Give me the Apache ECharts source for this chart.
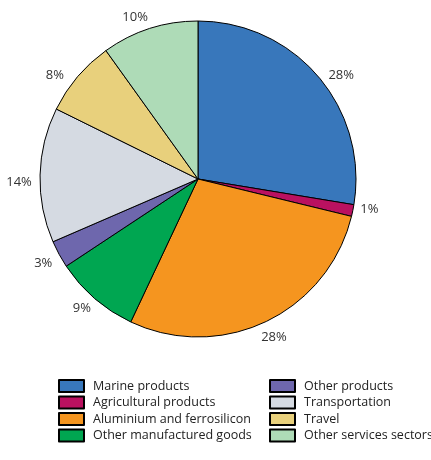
<!DOCTYPE html>
<html><head><meta charset="utf-8">
<script src="https://cdn.jsdelivr.net/npm/echarts@6/dist/echarts.min.js"></script>
<style>html,body{margin:0;padding:0;background:#fff}#c{width:431px;height:460px}</style>
</head><body><div id="c"></div>
<script>
var categories = ['Marine products','Agricultural products','Aluminium and ferrosilicon','Other manufactured goods','Other products','Transportation','Travel','Other services sectors'];
var values = [27.6, 1.2, 28.2, 8.7, 2.8, 13.8, 7.8, 9.9];
var colors = ['#3877BB','#BA1160','#F5951F','#00A651','#6E67AD','#D5DAE2','#E8D07C','#AEDBB7'];
var leftLegend = categories.slice(0,4);
var rightLegend = categories.slice(4);
// small label nudges (style only)
var labelNudge = [[9,10],[-1,-5],[0,0],[-1,-4],[0,0],[-3,8],[-9,10],[-9,6]];

var chart = echarts.init(document.getElementById('c'), null, {renderer:'canvas'});
var font = '"Open Sans", "DejaVu Sans", sans-serif';
var legendBase = {
  orient:'vertical', top:379, height:80, padding:0, itemWidth:25, itemHeight:12, itemGap:2.5, icon:'rect',
  selectedMode:false,
  textStyle:{fontFamily:font, fontSize:12.5, color:'#222', padding:[0,0,0,4]}
};
chart.setOption({
  animation:false,
  color: colors,
  legend:[
    Object.assign({}, legendBase, {left:58, data:leftLegend}),
    Object.assign({}, legendBase, {left:269, data:rightLegend})
  ],
  series:[{
    type:'pie',
    center:[198,179],
    radius:158,
    startAngle:90,
    clockwise:true,
    data: categories.map(function(n,i){return {name:n, value:values[i]};}),
    itemStyle:{borderColor:'#000', borderWidth:1},
    label:{show:false},
    labelLine:{show:false}
  },{
    type:'pie',
    center:[198,179],
    radius:[0,346],
    startAngle:90,
    clockwise:true,
    silent:true,
    z:1,
    data: categories.map(function(n,i){return {name:n+' ', value:values[i], label:{offset:labelNudge[i]}};}),
    itemStyle:{color:'rgba(0,0,0,0)', borderWidth:0},
    label:{
      show:true, position:'inside',
      formatter:function(p){return Math.round(p.value)+'%';},
      fontFamily:font, fontSize:13, color:'#333'
    },
    labelLine:{show:false}
  }]
});
</script></body></html>
